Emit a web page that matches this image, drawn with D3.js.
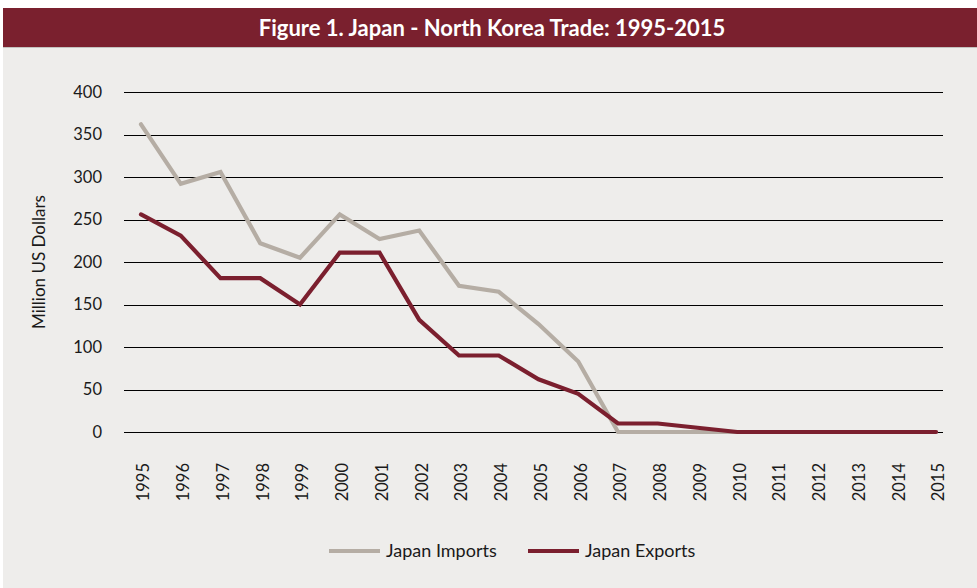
<!DOCTYPE html>
<html><head><meta charset="utf-8">
<script src="https://cdn.jsdelivr.net/npm/d3@7/dist/d3.min.js"></script>
<style>
html,body{margin:0;padding:0;background:#fff;}
svg{display:block;}
text{font-family:Lato,"Open Sans",sans-serif;}
</style></head>
<body>
<svg id="chart" width="977" height="588"></svg>
<script>
const years = ["1995","1996","1997","1998","1999","2000","2001","2002","2003","2004","2005","2006","2007","2008","2009","2010","2011","2012","2013","2014","2015"];
const importsValues = [362,292,306,222,205,256,227,237,172,165,127,83,0,0,0,0,0,0,0,0,0];
const exportsValues = [256,231,181,181,150,211,211,132,90,90,62,45,10,10,5,0,0,0,0,0,0];
const yTicks = [0,50,100,150,200,250,300,350,400];
const seriesNames = ["Japan Imports","Japan Exports"];
const seriesColors = ["#b5ada4","#7b1f2e"];
const titleText = "Figure 1. Japan - North Korea Trade: 1995-2015";
const yTitle = "Million US Dollars";

const svg = d3.select("#chart");
svg.append("rect").attr("x",3).attr("y",8).attr("width",974).attr("height",580).attr("fill","#eeedeb");
svg.append("rect").attr("x",3).attr("y",8).attr("width",974).attr("height",39).attr("fill","#7a202e");
svg.append("line").attr("x1",3).attr("x2",977).attr("y1",47.5).attr("y2",47.5).attr("stroke","#c4c2bf").attr("stroke-width",1);
svg.append("text").attr("x",492).attr("y",35.5).attr("text-anchor","middle")
  .attr("fill","#fff").attr("font-weight","bold").attr("font-size","22px").text(titleText);

const x = d3.scalePoint().domain(years).range([141,936]);
const y = d3.scaleLinear().domain([0,400]).range([432,92]);

// gridlines
const yAxis = d3.axisLeft(y).tickValues(yTicks).tickSize(-(943-124)).tickPadding(22);
const gy = svg.append("g").attr("transform","translate(124,0)").call(yAxis);
gy.select(".domain").remove();
gy.selectAll(".tick line").attr("stroke","#000").attr("stroke-width",1).attr("shape-rendering","crispEdges");
gy.selectAll(".tick text").attr("font-size","16.5px").attr("fill","#1a1a1a").attr("font-family","Lato,'Open Sans',sans-serif");

// x labels
const xAxis = d3.axisBottom(x).tickSize(0).tickPadding(0);
const gx = svg.append("g").attr("transform","translate(2,0)").call(xAxis);
gx.select(".domain").remove();
gx.selectAll(".tick text")
  .attr("transform","translate(0,463) rotate(-90)")
  .attr("x",0).attr("y",0).attr("dy","0.35em")
  .attr("text-anchor","end")
  .attr("font-size","16.5px").attr("fill","#1a1a1a").attr("font-family","Lato,'Open Sans',sans-serif");

// y title
svg.append("text").attr("transform","translate(45,262) rotate(-90)").attr("text-anchor","middle")
  .attr("font-size","17px").attr("fill","#1a1a1a").text(yTitle);

const line = d3.line().x((d,i)=>x(years[i])).y(d=>y(d));
[importsValues, exportsValues].forEach((vals,k)=>{
  svg.append("path").datum(vals).attr("d",line).attr("fill","none")
    .attr("stroke",seriesColors[k]).attr("stroke-width",4.2).attr("stroke-linejoin","miter").attr("stroke-linecap","round");
});

// legend
const legendX = [329,528];
seriesNames.forEach((name,k)=>{
  const g = svg.append("g").attr("transform",`translate(${legendX[k]},551)`);
  g.append("line").attr("x1",0).attr("x2",51).attr("y1",0).attr("y2",0).attr("stroke",seriesColors[k]).attr("stroke-width",4);
  g.append("text").attr("x",57).attr("y",0).attr("dy","0.35em").attr("font-size","18px").attr("fill","#1a1a1a").text(name);
});
</script>
</body></html>
